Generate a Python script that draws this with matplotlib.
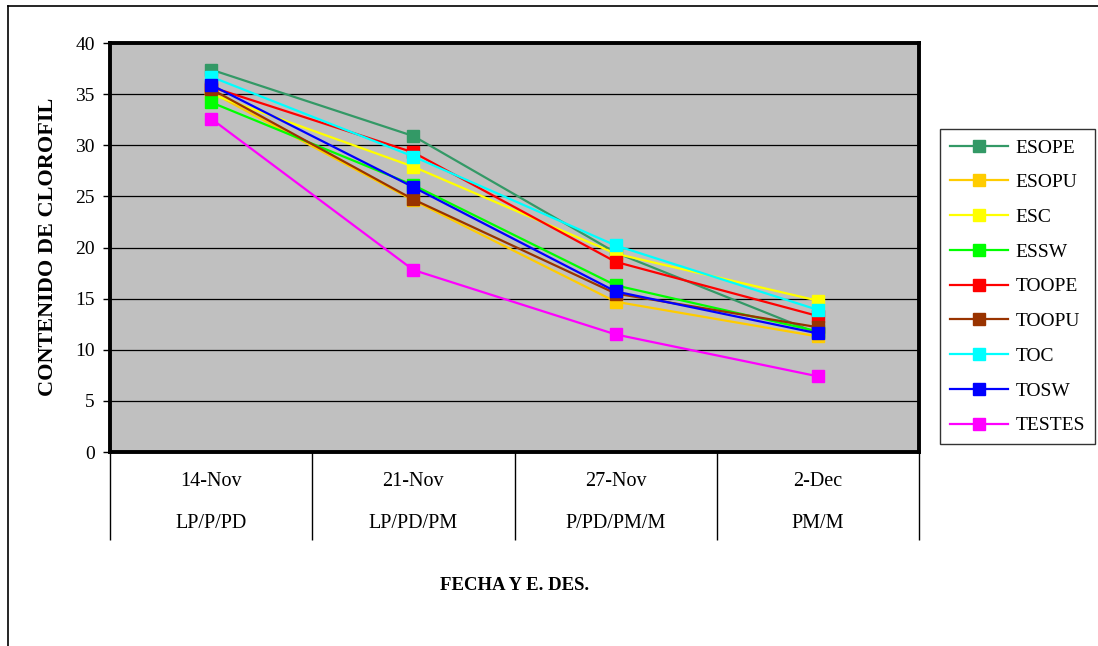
import matplotlib
matplotlib.use('Agg')
import matplotlib.pyplot as plt
from matplotlib.lines import Line2D

plt.rcParams['font.family'] = ['Liberation Serif', 'DejaVu Serif']

fechas = ['14-Nov', '21-Nov', '27-Nov', '2-Dec']
estados = ['LP/P/PD', 'LP/PD/PM', 'P/PD/PM/M', 'PM/M']

series = ['ESOPE', 'ESOPU', 'ESC', 'ESSW', 'TOOPE', 'TOOPU', 'TOC', 'TOSW', 'TESTES']
colores = ['#339966', '#FFCC00', '#FFFF00', '#00FF00', '#FF0000',
           '#993300', '#00FFFF', '#0000FF', '#FF00FF']

esope = [37.4, 30.9, 19.5, 11.6]
esopu = [35.2, 24.6, 14.7, 11.3]
esc = [35.0, 27.9, 19.4, 14.8]
essw = [34.2, 26.1, 16.3, 11.8]
toope = [35.7, 29.3, 18.6, 13.3]
toopu = [35.5, 24.7, 15.5, 12.2]
toc = [36.7, 28.9, 20.2, 13.9]
tosw = [35.9, 25.9, 15.7, 11.6]
testes = [32.6, 17.8, 11.5, 7.4]
valores = [esope, esopu, esc, essw, toope, toopu, toc, tosw, testes]

fig = plt.figure(figsize=(10.98, 6.46), dpi=100)
ax = fig.add_axes([0.1002, 0.3003, 0.7368, 0.6331])
ax.set_facecolor('#C0C0C0')

x = [i + 0.5 for i in range(len(fechas))]
for nombre, color, vals in zip(series, colores, valores):
    ax.plot(x, vals, color=color, lw=1.6, marker='s', markersize=8.5,
            label=nombre)

ax.set_xlim(0, 4)
ax.set_ylim(0, 40)
ax.set_yticks(range(0, 41, 5))
ax.yaxis.grid(True, color='black', lw=0.9)
ax.set_axisbelow(True)
ax.tick_params(axis='y', labelsize=14, length=5, width=1, pad=6)
ax.set_xticks([])
for s in ax.spines.values():
    s.set_linewidth(2.8)
    s.set_color('black')

# cajas de categorias bajo el eje
tr = ax.get_xaxis_transform()
ax.vlines(range(5), -0.215, 0, transform=tr, color='black', lw=1, clip_on=False)
for xi, f, e in zip(x, fechas, estados):
    ax.text(xi, -0.071, f, transform=tr, ha='center', va='center', fontsize=14.5)
    ax.text(xi, -0.174, e, transform=tr, ha='center', va='center', fontsize=14.5)

fig.text(48 / 1098, 1 - 247 / 646, 'CONTENIDO DE CLOROFIL', rotation=90,
         ha='center', va='center', fontsize=16, fontweight='bold')
fig.text(0.469, 0.094, 'FECHA Y E. DES.', ha='center', va='center',
         fontsize=13.5, fontweight='bold')

leg = fig.legend(loc='upper left', bbox_to_anchor=(0.856, 0.80), fontsize=14,
                 handlelength=3.0, labelspacing=0.88, frameon=True,
                 fancybox=False, edgecolor='black', borderaxespad=0,
                 borderpad=0.5, handletextpad=0.4)
leg.get_frame().set_linewidth(1.0)

# marco exterior
fig.add_artist(Line2D([8 / 1098, 8 / 1098], [0, 1 - 6 / 646], color='black', lw=1.2))
fig.add_artist(Line2D([8 / 1098, 1], [1 - 6 / 646, 1 - 6 / 646], color='black', lw=1.2))

fig.savefig('out.png', dpi=100)
